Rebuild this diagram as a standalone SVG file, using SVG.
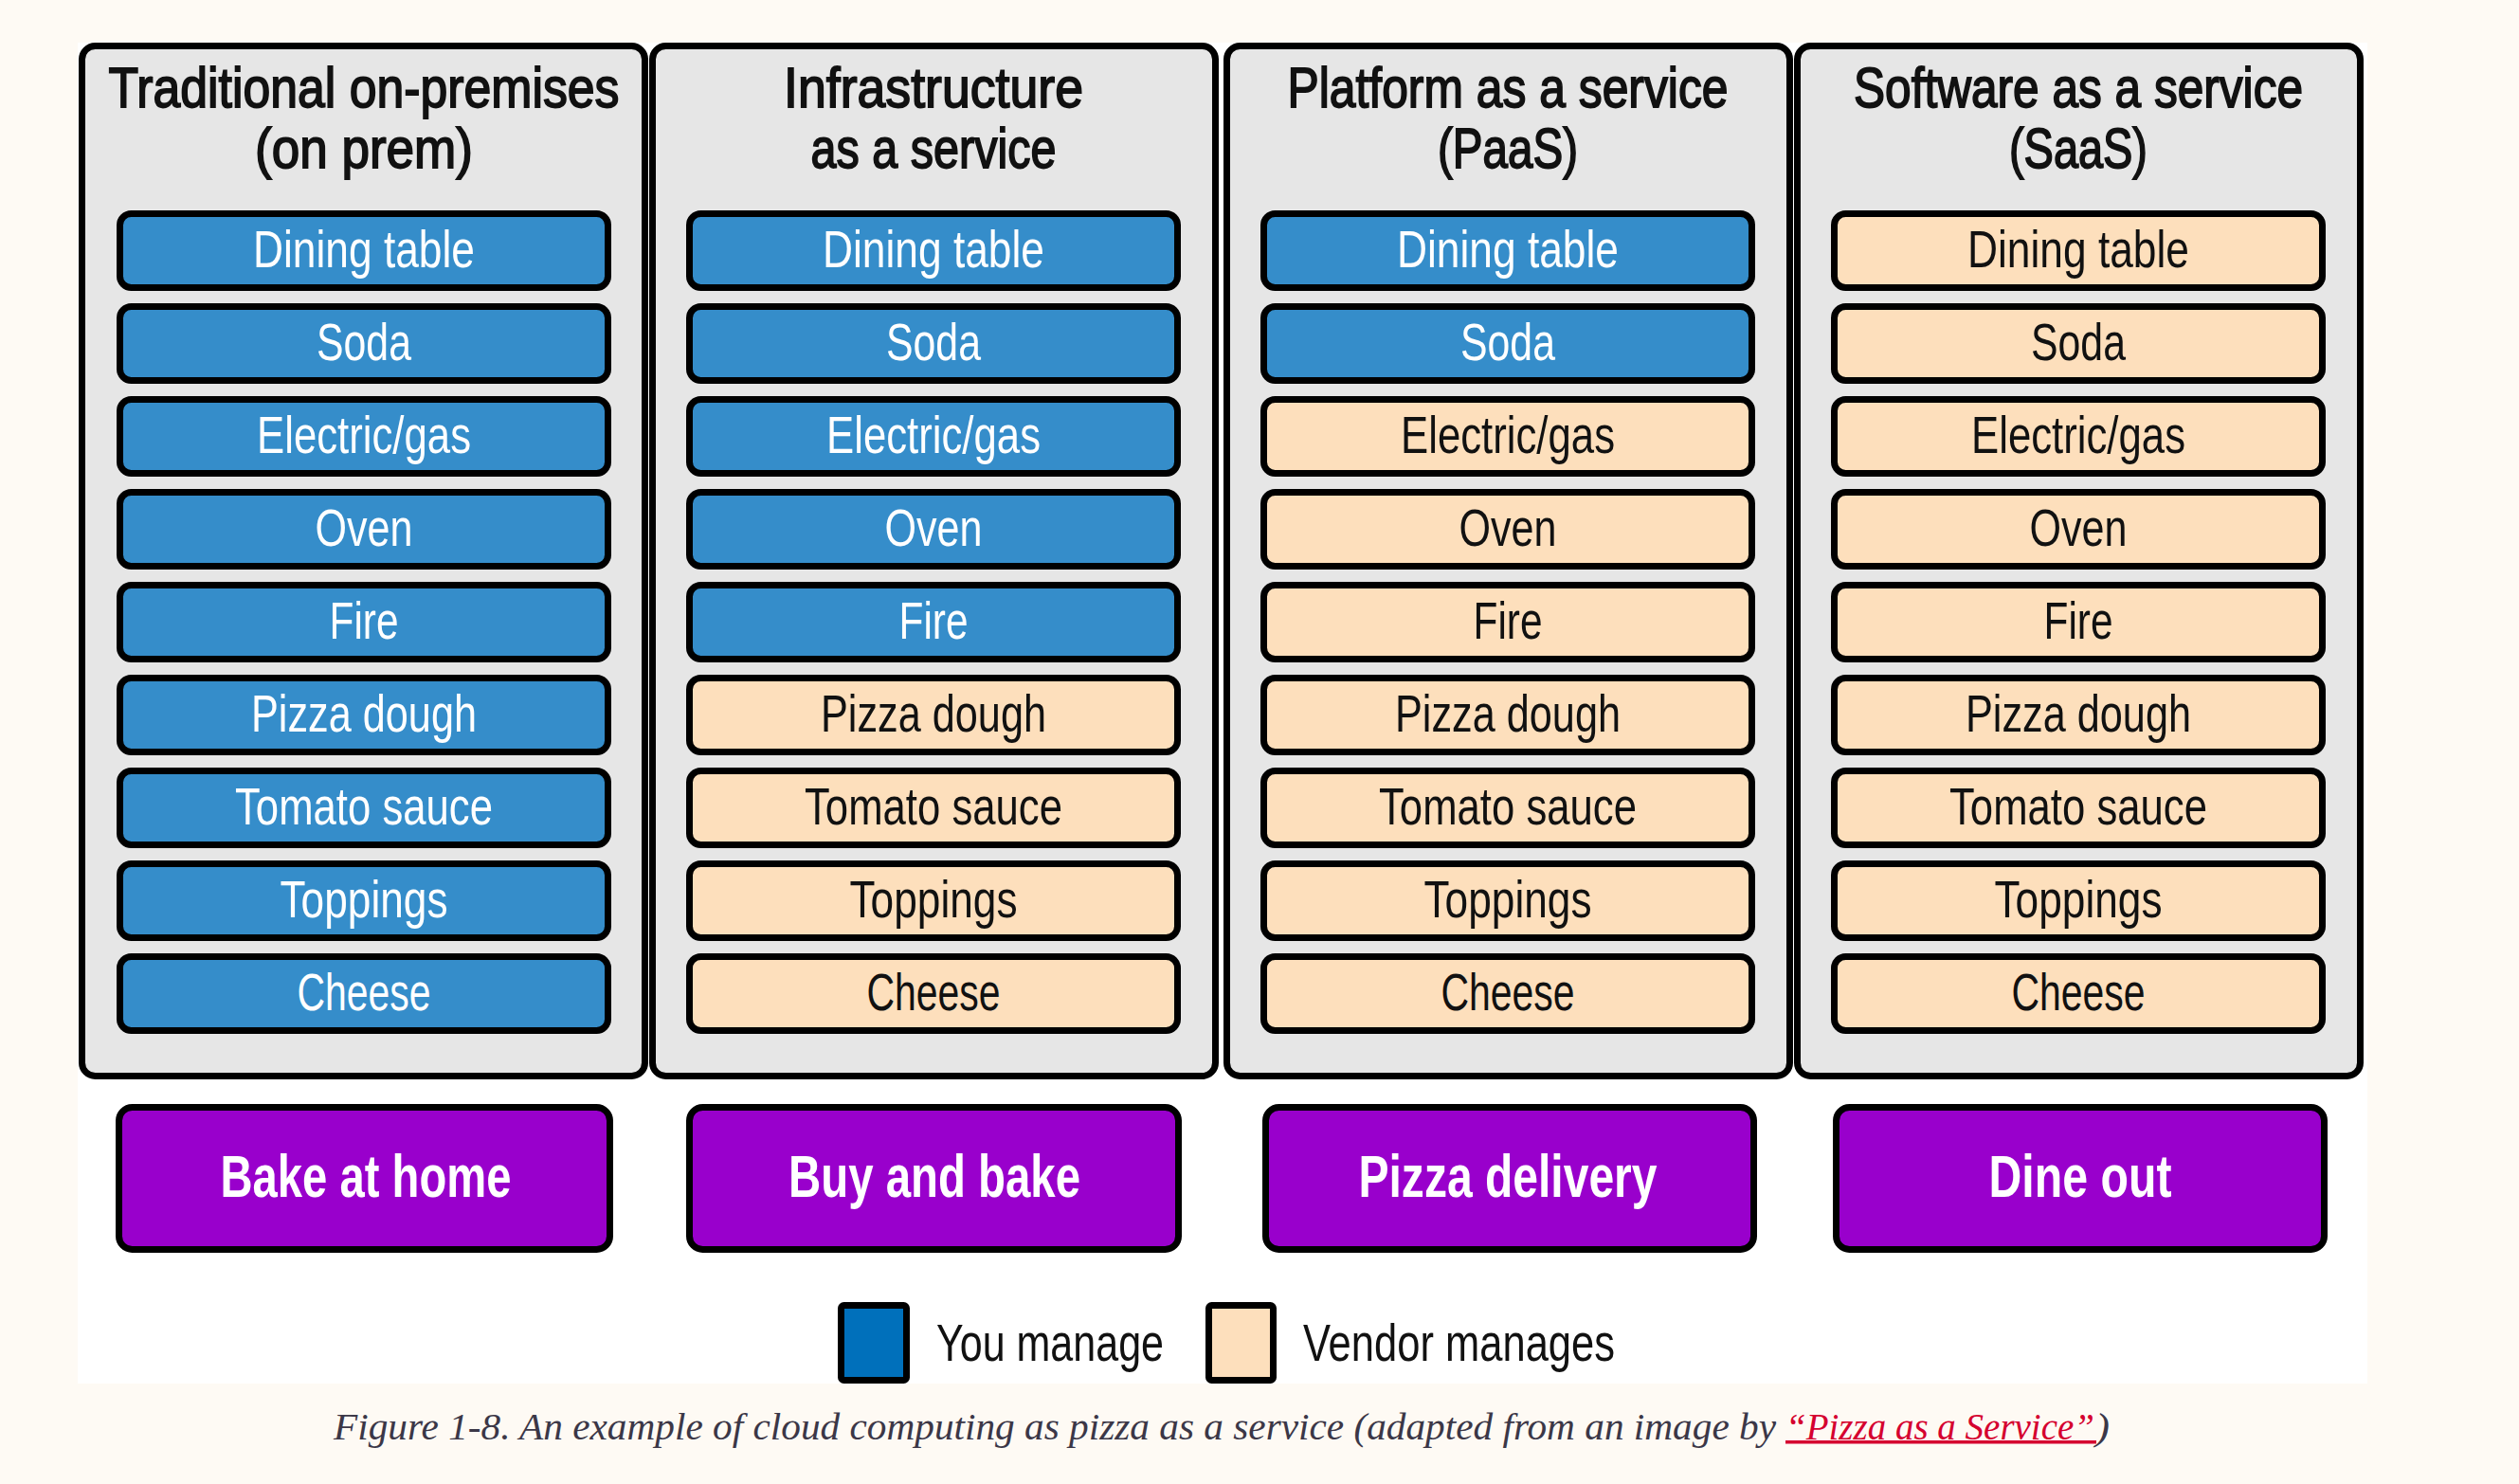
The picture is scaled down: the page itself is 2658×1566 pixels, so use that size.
<svg xmlns="http://www.w3.org/2000/svg" width="2658" height="1566" viewBox="0 0 2658 1566">
<style>
.panel{fill:#E6E6E6;stroke:#000;stroke-width:7}
.you{fill:#358DCA;stroke:#000;stroke-width:7}
.ven{fill:#FDDFBC;stroke:#000;stroke-width:7}
.pl{fill:#9900CC;stroke:#000;stroke-width:7}
.sans{font-family:"Liberation Sans Narrow","Liberation Sans",Arial,sans-serif}
.it{font-size:55px;text-anchor:middle}
.w{fill:#fff}
.k{fill:#111}
.hd{font-size:60px;text-anchor:middle;fill:#111;stroke:#111;stroke-width:1.8}
.pt{font-size:63px;font-weight:bold;text-anchor:middle;fill:#fff}
.lg{font-size:55px;fill:#111}
.cap{font-family:"Liberation Serif","Times New Roman",serif;font-style:italic;font-size:39px;fill:#3B3747}
.link{fill:#D5002F}
</style>
<rect x="0" y="0" width="2658" height="1566" fill="#FEFAF4"/>
<rect x="82" y="45" width="2416" height="1415" fill="#FFFFFF"/>

<g id="col-onprem">
<rect class="panel" x="86.5" y="48.5" width="594" height="1087" rx="14"/>
<text class="sans hd" x="384" y="113" textLength="539" lengthAdjust="spacingAndGlyphs">Traditional on-premises</text>
<text class="sans hd" x="384" y="177" textLength="230" lengthAdjust="spacingAndGlyphs">(on prem)</text>
<g id="onprem-dining"><rect class="you" x="126.5" y="225.5" width="515" height="78" rx="12"/><text class="sans it w" x="384" y="282" textLength="234" lengthAdjust="spacingAndGlyphs">Dining table</text></g>
<g id="onprem-soda"><rect class="you" x="126.5" y="323.5" width="515" height="78" rx="12"/><text class="sans it w" x="384" y="380" textLength="100" lengthAdjust="spacingAndGlyphs">Soda</text></g>
<g id="onprem-electric"><rect class="you" x="126.5" y="421.5" width="515" height="78" rx="12"/><text class="sans it w" x="384" y="478" textLength="226" lengthAdjust="spacingAndGlyphs">Electric/gas</text></g>
<g id="onprem-oven"><rect class="you" x="126.5" y="519.5" width="515" height="78" rx="12"/><text class="sans it w" x="384" y="576" textLength="103" lengthAdjust="spacingAndGlyphs">Oven</text></g>
<g id="onprem-fire"><rect class="you" x="126.5" y="617.5" width="515" height="78" rx="12"/><text class="sans it w" x="384" y="674" textLength="73" lengthAdjust="spacingAndGlyphs">Fire</text></g>
<g id="onprem-dough"><rect class="you" x="126.5" y="715.5" width="515" height="78" rx="12"/><text class="sans it w" x="384" y="772" textLength="238" lengthAdjust="spacingAndGlyphs">Pizza dough</text></g>
<g id="onprem-sauce"><rect class="you" x="126.5" y="813.5" width="515" height="78" rx="12"/><text class="sans it w" x="384" y="870" textLength="272" lengthAdjust="spacingAndGlyphs">Tomato sauce</text></g>
<g id="onprem-toppings"><rect class="you" x="126.5" y="911.5" width="515" height="78" rx="12"/><text class="sans it w" x="384" y="968" textLength="177" lengthAdjust="spacingAndGlyphs">Toppings</text></g>
<g id="onprem-cheese"><rect class="you" x="126.5" y="1009.5" width="515" height="78" rx="12"/><text class="sans it w" x="384" y="1066" textLength="141" lengthAdjust="spacingAndGlyphs">Cheese</text></g>
</g>

<g id="col-iaas">
<rect class="panel" x="688.5" y="48.5" width="594" height="1087" rx="14"/>
<text class="sans hd" x="985" y="113" textLength="316" lengthAdjust="spacingAndGlyphs">Infrastructure</text>
<text class="sans hd" x="985" y="177" textLength="259" lengthAdjust="spacingAndGlyphs">as a service</text>
<g id="iaas-dining"><rect class="you" x="727.5" y="225.5" width="515" height="78" rx="12"/><text class="sans it w" x="985" y="282" textLength="234" lengthAdjust="spacingAndGlyphs">Dining table</text></g>
<g id="iaas-soda"><rect class="you" x="727.5" y="323.5" width="515" height="78" rx="12"/><text class="sans it w" x="985" y="380" textLength="100" lengthAdjust="spacingAndGlyphs">Soda</text></g>
<g id="iaas-electric"><rect class="you" x="727.5" y="421.5" width="515" height="78" rx="12"/><text class="sans it w" x="985" y="478" textLength="226" lengthAdjust="spacingAndGlyphs">Electric/gas</text></g>
<g id="iaas-oven"><rect class="you" x="727.5" y="519.5" width="515" height="78" rx="12"/><text class="sans it w" x="985" y="576" textLength="103" lengthAdjust="spacingAndGlyphs">Oven</text></g>
<g id="iaas-fire"><rect class="you" x="727.5" y="617.5" width="515" height="78" rx="12"/><text class="sans it w" x="985" y="674" textLength="73" lengthAdjust="spacingAndGlyphs">Fire</text></g>
<g id="iaas-dough"><rect class="ven" x="727.5" y="715.5" width="515" height="78" rx="12"/><text class="sans it k" x="985" y="772" textLength="238" lengthAdjust="spacingAndGlyphs">Pizza dough</text></g>
<g id="iaas-sauce"><rect class="ven" x="727.5" y="813.5" width="515" height="78" rx="12"/><text class="sans it k" x="985" y="870" textLength="272" lengthAdjust="spacingAndGlyphs">Tomato sauce</text></g>
<g id="iaas-toppings"><rect class="ven" x="727.5" y="911.5" width="515" height="78" rx="12"/><text class="sans it k" x="985" y="968" textLength="177" lengthAdjust="spacingAndGlyphs">Toppings</text></g>
<g id="iaas-cheese"><rect class="ven" x="727.5" y="1009.5" width="515" height="78" rx="12"/><text class="sans it k" x="985" y="1066" textLength="141" lengthAdjust="spacingAndGlyphs">Cheese</text></g>
</g>

<g id="col-paas">
<rect class="panel" x="1294.5" y="48.5" width="594" height="1087" rx="14"/>
<text class="sans hd" x="1591" y="113" textLength="465" lengthAdjust="spacingAndGlyphs">Platform as a service</text>
<text class="sans hd" x="1591" y="177" textLength="148" lengthAdjust="spacingAndGlyphs">(PaaS)</text>
<g id="paas-dining"><rect class="you" x="1333.5" y="225.5" width="515" height="78" rx="12"/><text class="sans it w" x="1591" y="282" textLength="234" lengthAdjust="spacingAndGlyphs">Dining table</text></g>
<g id="paas-soda"><rect class="you" x="1333.5" y="323.5" width="515" height="78" rx="12"/><text class="sans it w" x="1591" y="380" textLength="100" lengthAdjust="spacingAndGlyphs">Soda</text></g>
<g id="paas-electric"><rect class="ven" x="1333.5" y="421.5" width="515" height="78" rx="12"/><text class="sans it k" x="1591" y="478" textLength="226" lengthAdjust="spacingAndGlyphs">Electric/gas</text></g>
<g id="paas-oven"><rect class="ven" x="1333.5" y="519.5" width="515" height="78" rx="12"/><text class="sans it k" x="1591" y="576" textLength="103" lengthAdjust="spacingAndGlyphs">Oven</text></g>
<g id="paas-fire"><rect class="ven" x="1333.5" y="617.5" width="515" height="78" rx="12"/><text class="sans it k" x="1591" y="674" textLength="73" lengthAdjust="spacingAndGlyphs">Fire</text></g>
<g id="paas-dough"><rect class="ven" x="1333.5" y="715.5" width="515" height="78" rx="12"/><text class="sans it k" x="1591" y="772" textLength="238" lengthAdjust="spacingAndGlyphs">Pizza dough</text></g>
<g id="paas-sauce"><rect class="ven" x="1333.5" y="813.5" width="515" height="78" rx="12"/><text class="sans it k" x="1591" y="870" textLength="272" lengthAdjust="spacingAndGlyphs">Tomato sauce</text></g>
<g id="paas-toppings"><rect class="ven" x="1333.5" y="911.5" width="515" height="78" rx="12"/><text class="sans it k" x="1591" y="968" textLength="177" lengthAdjust="spacingAndGlyphs">Toppings</text></g>
<g id="paas-cheese"><rect class="ven" x="1333.5" y="1009.5" width="515" height="78" rx="12"/><text class="sans it k" x="1591" y="1066" textLength="141" lengthAdjust="spacingAndGlyphs">Cheese</text></g>
</g>

<g id="col-saas">
<rect class="panel" x="1896.5" y="48.5" width="594" height="1087" rx="14"/>
<text class="sans hd" x="2193" y="113" textLength="474" lengthAdjust="spacingAndGlyphs">Software as a service</text>
<text class="sans hd" x="2193" y="177" textLength="146" lengthAdjust="spacingAndGlyphs">(SaaS)</text>
<g id="saas-dining"><rect class="ven" x="1935.5" y="225.5" width="515" height="78" rx="12"/><text class="sans it k" x="2193" y="282" textLength="234" lengthAdjust="spacingAndGlyphs">Dining table</text></g>
<g id="saas-soda"><rect class="ven" x="1935.5" y="323.5" width="515" height="78" rx="12"/><text class="sans it k" x="2193" y="380" textLength="100" lengthAdjust="spacingAndGlyphs">Soda</text></g>
<g id="saas-electric"><rect class="ven" x="1935.5" y="421.5" width="515" height="78" rx="12"/><text class="sans it k" x="2193" y="478" textLength="226" lengthAdjust="spacingAndGlyphs">Electric/gas</text></g>
<g id="saas-oven"><rect class="ven" x="1935.5" y="519.5" width="515" height="78" rx="12"/><text class="sans it k" x="2193" y="576" textLength="103" lengthAdjust="spacingAndGlyphs">Oven</text></g>
<g id="saas-fire"><rect class="ven" x="1935.5" y="617.5" width="515" height="78" rx="12"/><text class="sans it k" x="2193" y="674" textLength="73" lengthAdjust="spacingAndGlyphs">Fire</text></g>
<g id="saas-dough"><rect class="ven" x="1935.5" y="715.5" width="515" height="78" rx="12"/><text class="sans it k" x="2193" y="772" textLength="238" lengthAdjust="spacingAndGlyphs">Pizza dough</text></g>
<g id="saas-sauce"><rect class="ven" x="1935.5" y="813.5" width="515" height="78" rx="12"/><text class="sans it k" x="2193" y="870" textLength="272" lengthAdjust="spacingAndGlyphs">Tomato sauce</text></g>
<g id="saas-toppings"><rect class="ven" x="1935.5" y="911.5" width="515" height="78" rx="12"/><text class="sans it k" x="2193" y="968" textLength="177" lengthAdjust="spacingAndGlyphs">Toppings</text></g>
<g id="saas-cheese"><rect class="ven" x="1935.5" y="1009.5" width="515" height="78" rx="12"/><text class="sans it k" x="2193" y="1066" textLength="141" lengthAdjust="spacingAndGlyphs">Cheese</text></g>
</g>

<g id="bake-at-home"><rect class="pl" x="125.5" y="1168.5" width="518" height="150" rx="14"/><text class="sans pt" x="386" y="1263" textLength="307" lengthAdjust="spacingAndGlyphs">Bake at home</text></g>
<g id="buy-and-bake"><rect class="pl" x="727.5" y="1168.5" width="516" height="150" rx="14"/><text class="sans pt" x="986" y="1263" textLength="308" lengthAdjust="spacingAndGlyphs">Buy and bake</text></g>
<g id="pizza-delivery"><rect class="pl" x="1335.5" y="1168.5" width="515" height="150" rx="14"/><text class="sans pt" x="1591" y="1263" textLength="315" lengthAdjust="spacingAndGlyphs">Pizza delivery</text></g>
<g id="dine-out"><rect class="pl" x="1937.5" y="1168.5" width="515" height="150" rx="14"/><text class="sans pt" x="2195" y="1263" textLength="193" lengthAdjust="spacingAndGlyphs">Dine out</text></g>

<g id="connectors"/>

<g id="legend">
<g id="legend-you"><rect x="887.5" y="1377.5" width="69" height="79" rx="3" fill="#0070BB" stroke="#000" stroke-width="7"/><text class="sans lg" x="988" y="1436" textLength="240" lengthAdjust="spacingAndGlyphs">You manage</text></g>
<g id="legend-vendor"><rect x="1275.5" y="1377.5" width="68" height="79" rx="3" fill="#FDDFBC" stroke="#000" stroke-width="7"/><text class="sans lg" x="1375" y="1436" textLength="329" lengthAdjust="spacingAndGlyphs">Vendor manages</text></g>
</g>

<g id="caption">
<text class="cap" x="352" y="1519" textLength="1522" lengthAdjust="spacingAndGlyphs">Figure 1-8. An example of cloud computing as pizza as a service (adapted from an image by</text>
<text class="cap link" x="1884" y="1519" textLength="326" lengthAdjust="spacingAndGlyphs">“Pizza as a Service”</text>
<text class="cap" x="2211" y="1519" textLength="15" lengthAdjust="spacingAndGlyphs">)</text>
<rect x="1884" y="1520" width="328" height="3.5" fill="#D5002F"/>
</g>
</svg>
